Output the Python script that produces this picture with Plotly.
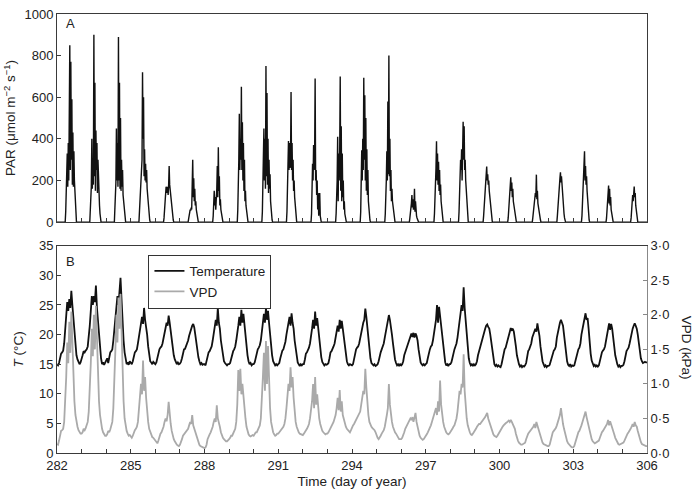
import plotly.graph_objects as go

# ---------------- data ----------------
days = list(range(282, 306))

# PAR (umol m-2 s-1), half-hourly from 08:00 onward for each day (night = 0)
par_days = [
    [0,50,120,180,330,170,380,200,560,850,250,770,300,590,180,430,170,340,200,150,90,40,0],
    [0,50,130,170,400,160,300,180,900,220,670,150,440,250,380,140,300,160,120,80,40,10,0],
    [0,60,140,190,450,200,380,170,890,200,670,160,500,150,300,170,250,130,100,70,40,10,0],
    [0,40,90,150,200,250,300,720,400,600,220,350,200,280,190,250,160,120,90,60,30,10,0],
    [0,20,50,90,130,170,150,140,170,130,180,270,180,150,120,90,60,40,20,10,0,0,0],
    [0,15,30,50,60,55,70,60,150,300,120,210,100,160,80,100,60,40,20,10,0,0,0],
    [0,30,70,150,80,120,60,100,160,270,120,360,150,220,80,110,60,40,20,10,0,0,0],
    [0,60,150,300,520,250,400,300,650,250,480,200,380,150,300,100,150,80,50,20,10,0,0],
    [0,50,150,280,450,200,400,160,750,220,620,180,400,140,300,160,230,100,60,30,10,0,0],
    [0,50,150,250,390,250,380,260,300,625,250,380,200,300,150,200,120,80,40,20,0,0,0],
    [0,40,120,280,200,370,250,300,690,200,250,130,200,60,140,30,80,140,30,10,0,0,0],
    [0,40,100,200,410,100,330,200,350,700,150,460,100,330,120,200,60,100,40,20,0,0,0],
    [0,50,150,345,200,400,250,694,300,610,200,500,150,350,130,250,100,60,30,10,0,0,0],
    [0,40,100,200,340,200,580,230,800,220,400,150,250,100,160,100,80,50,20,10,0,0,0],
    [0,20,40,60,90,130,70,110,60,80,160,50,100,40,30,20,10,0,0,0,0,0,0],
    [0,40,100,200,260,388,200,330,180,290,150,250,130,180,100,60,30,10,0,0,0,0,0],
    [0,50,120,200,300,250,350,200,400,482,300,460,250,300,200,150,80,40,20,0,0,0,0],
    [0,30,80,130,180,200,220,267,200,230,180,200,150,120,90,60,30,10,0,0,0,0,0],
    [0,20,60,100,150,180,215,150,190,120,160,100,80,60,40,20,10,0,0,0,0,0,0],
    [0,20,50,80,110,100,140,120,228,110,150,90,70,50,30,20,10,0,0,0,0,0,0],
    [0,30,80,130,180,200,210,239,190,220,170,150,110,70,40,20,0,0,0,0,0,0,0],
    [0,30,80,140,200,270,340,200,270,180,220,150,100,60,30,10,0,0,0,0,0,0,0],
    [0,20,50,80,120,176,90,160,80,120,60,40,20,10,0,0,0,0,0,0,0,0,0],
    [0,20,50,90,130,100,150,171,120,140,80,60,30,10,0,0,0,0,0,0,0,0,0],
]

# Air temperature (deg C), hourly 00:00-23:00 for each day
temp_days = [
    [15.0,14.8,15.2,16.0,16.8,17.0,17.3,18.5,20.5,22.5,25.5,24.0,26.0,24.5,27.4,25.0,22.5,20.0,18.0,16.5,15.8,15.5,15.0,15.3],
    [15.8,16.5,17.2,17.0,17.3,17.5,18.0,19.5,21.5,24.0,26.5,25.0,26.5,25.5,28.3,24.5,22.0,19.5,17.5,16.0,15.0,15.3,14.9,15.2],
    [15.5,16.0,15.2,16.5,17.0,17.2,17.5,19.0,21.0,23.5,25.0,26.5,25.0,27.0,29.6,26.0,22.0,19.0,17.0,15.5,15.0,15.3,14.9,15.5],
    [15.2,15.0,15.5,16.5,17.0,17.2,17.5,18.5,19.5,21.0,22.0,23.0,21.8,24.5,22.5,21.5,20.0,18.0,16.5,15.5,15.3,15.0,15.4,15.1],
    [15.0,15.3,16.0,17.0,17.5,17.8,18.0,18.5,19.5,20.5,21.5,22.0,21.5,23.2,22.0,20.5,19.0,17.5,16.5,15.8,15.2,15.0,15.3,15.0],
    [15.1,15.4,16.0,17.0,17.5,17.6,18.0,18.5,19.0,19.8,20.5,21.0,21.5,21.8,21.2,20.0,18.5,17.3,16.2,15.5,15.0,15.2,14.9,15.0],
    [15.0,14.8,15.5,16.5,17.0,17.2,17.5,18.0,19.0,20.5,21.5,22.5,21.5,24.5,22.0,21.0,19.0,17.5,16.5,15.5,15.2,15.0,14.8,15.0],
    [15.0,15.2,16.0,17.0,17.2,17.5,18.0,19.0,20.0,21.5,23.0,21.5,24.2,22.0,23.5,21.5,19.5,17.8,16.5,15.5,15.0,15.2,14.8,15.0],
    [15.0,15.3,16.2,17.0,17.5,17.8,18.2,19.0,20.5,22.0,23.5,22.0,24.5,22.5,24.0,22.0,20.0,18.0,16.5,15.5,15.0,14.8,15.0,14.8],
    [15.0,15.2,16.0,17.0,17.3,17.5,18.0,18.8,20.0,21.0,22.0,23.0,21.5,23.6,22.0,21.0,19.0,17.5,16.0,15.3,15.0,14.7,15.0,14.8],
    [15.0,15.0,15.8,16.8,17.0,17.3,17.8,18.5,19.5,21.0,22.5,21.0,23.9,21.5,22.8,21.0,19.5,17.5,16.2,15.4,15.0,14.8,15.0,14.9],
    [15.0,15.2,16.0,17.0,17.2,17.5,18.0,18.5,19.5,20.5,21.5,20.5,22.5,21.0,22.3,21.0,19.5,17.8,16.5,15.5,15.0,14.8,15.0,14.9],
    [14.8,15.0,15.8,17.0,17.5,17.8,18.0,18.5,19.5,20.5,21.5,22.0,22.5,24.4,23.0,21.0,19.0,17.5,16.0,15.2,15.0,14.8,15.0,14.7],
    [14.8,15.0,15.5,16.5,17.0,17.5,18.0,18.5,19.5,20.5,21.5,22.0,23.3,22.5,21.5,20.0,18.5,17.0,15.8,15.2,14.8,15.0,14.7,15.0],
    [14.8,15.0,15.5,16.5,17.0,17.5,18.0,18.5,19.0,19.5,20.2,19.6,20.3,19.5,20.2,19.8,19.0,17.5,16.0,15.3,15.0,14.8,15.0,14.8],
    [15.0,15.2,16.0,17.0,17.5,18.0,18.2,19.0,20.0,21.5,22.5,25.0,22.0,24.7,23.0,21.5,19.5,17.5,16.0,15.3,14.8,15.0,14.7,15.0],
    [15.0,15.3,16.0,17.0,17.5,18.0,18.5,19.5,21.0,22.5,23.5,25.0,24.0,28.0,24.5,22.5,20.0,17.5,16.0,15.2,14.8,15.0,14.7,15.0],
    [14.8,15.0,15.5,16.5,17.2,17.8,18.2,19.0,19.8,20.5,21.0,21.5,21.7,21.3,21.0,20.0,18.5,17.0,15.8,15.0,14.7,14.9,14.6,14.8],
    [14.6,14.5,15.0,16.0,17.0,17.5,17.8,18.5,19.0,19.8,20.5,21.1,20.8,21.0,20.5,19.5,18.0,16.5,15.5,15.0,14.6,14.8,14.5,14.7],
    [14.6,14.8,15.2,16.5,17.2,17.5,18.0,18.5,19.5,20.0,20.5,21.0,20.5,21.9,20.8,19.8,18.0,16.5,15.5,15.0,14.6,14.8,14.5,14.7],
    [14.7,14.9,15.5,16.5,17.0,17.3,17.5,18.0,19.5,20.5,21.5,22.0,22.5,22.0,21.5,20.0,18.0,16.5,15.5,14.9,14.7,15.0,14.6,14.8],
    [14.7,14.8,15.5,16.5,17.3,17.5,17.8,18.5,20.0,21.0,22.0,22.8,23.6,22.5,22.8,21.0,18.5,16.8,15.6,15.0,14.7,14.9,14.6,14.8],
    [14.6,14.8,15.5,16.5,17.0,17.3,17.5,18.0,19.0,20.0,21.0,21.9,20.8,21.8,21.0,19.8,18.0,16.5,15.5,15.0,14.6,14.8,14.5,14.7],
    [14.7,14.9,15.5,16.5,17.2,17.5,17.8,18.5,19.5,20.5,21.0,21.5,21.9,21.5,21.0,20.0,18.5,17.0,16.0,15.5,15.2,15.3,15.4,15.3],
]

# Vapour pressure deficit (kPa), hourly 00:00-23:00 for each day
vpd_days = [
    [0.13,0.12,0.18,0.28,0.32,0.33,0.35,0.45,0.70,1.10,1.60,1.30,1.90,1.45,2.05,1.60,1.10,0.75,0.55,0.45,0.38,0.33,0.30,0.28],
    [0.28,0.30,0.35,0.33,0.36,0.40,0.45,0.60,0.90,1.30,1.80,1.40,2.00,1.50,2.13,1.60,1.10,0.75,0.55,0.42,0.35,0.30,0.27,0.25],
    [0.25,0.27,0.32,0.30,0.34,0.38,0.45,0.65,1.00,1.50,2.00,1.60,2.25,1.80,2.30,1.70,1.10,0.75,0.50,0.38,0.32,0.28,0.25,0.26],
    [0.24,0.22,0.25,0.30,0.33,0.35,0.38,0.45,0.60,0.80,1.00,0.85,1.34,0.90,1.10,0.80,0.60,0.45,0.35,0.30,0.26,0.23,0.22,0.20],
    [0.18,0.15,0.14,0.18,0.25,0.28,0.30,0.33,0.38,0.45,0.50,0.46,0.55,0.74,0.50,0.42,0.32,0.25,0.20,0.17,0.14,0.12,0.11,0.10],
    [0.12,0.15,0.20,0.25,0.27,0.28,0.30,0.32,0.35,0.40,0.45,0.42,0.55,0.40,0.35,0.30,0.25,0.20,0.15,0.12,0.10,0.09,0.08,0.07],
    [0.07,0.08,0.12,0.20,0.25,0.27,0.30,0.33,0.38,0.45,0.50,0.45,0.69,0.50,0.45,0.38,0.30,0.25,0.22,0.20,0.18,0.17,0.17,0.18],
    [0.20,0.22,0.25,0.25,0.28,0.30,0.35,0.45,0.70,1.20,0.90,1.22,0.85,1.00,0.80,0.70,0.50,0.38,0.30,0.27,0.25,0.24,0.25,0.26],
    [0.25,0.27,0.30,0.30,0.33,0.36,0.40,0.50,0.75,1.10,1.45,0.90,1.62,1.00,1.55,0.90,0.65,0.45,0.35,0.30,0.27,0.25,0.26,0.28],
    [0.28,0.30,0.32,0.33,0.35,0.38,0.42,0.50,0.65,0.85,1.00,0.90,1.24,0.95,1.10,0.80,0.60,0.45,0.38,0.33,0.30,0.28,0.27,0.26],
    [0.26,0.28,0.30,0.32,0.35,0.38,0.42,0.50,0.60,0.75,1.00,0.65,1.10,0.70,0.85,0.60,0.50,0.42,0.36,0.32,0.30,0.28,0.27,0.28],
    [0.28,0.30,0.33,0.35,0.38,0.42,0.45,0.50,0.55,0.65,0.80,0.62,0.91,0.60,0.75,0.55,0.48,0.42,0.38,0.35,0.33,0.32,0.30,0.33],
    [0.38,0.40,0.42,0.45,0.48,0.50,0.52,0.55,0.60,0.70,0.80,0.90,0.85,1.22,0.95,0.70,0.55,0.45,0.40,0.38,0.36,0.35,0.33,0.30],
    [0.25,0.22,0.20,0.22,0.25,0.28,0.30,0.33,0.38,0.45,0.55,0.65,1.00,0.70,0.55,0.45,0.38,0.33,0.30,0.28,0.25,0.22,0.20,0.20],
    [0.20,0.22,0.25,0.30,0.35,0.38,0.40,0.42,0.45,0.50,0.48,0.52,0.45,0.50,0.58,0.45,0.38,0.30,0.25,0.22,0.20,0.19,0.20,0.22],
    [0.24,0.27,0.30,0.33,0.36,0.40,0.45,0.50,0.55,0.58,0.65,0.55,0.75,0.60,1.05,0.70,0.55,0.45,0.38,0.33,0.30,0.28,0.27,0.28],
    [0.30,0.32,0.35,0.38,0.40,0.45,0.50,0.60,0.75,0.90,0.85,1.00,0.95,1.43,0.90,0.65,0.50,0.40,0.33,0.30,0.27,0.26,0.28,0.30],
    [0.32,0.35,0.38,0.40,0.42,0.42,0.44,0.45,0.48,0.50,0.52,0.55,0.58,0.50,0.45,0.40,0.35,0.30,0.27,0.25,0.24,0.23,0.25,0.28],
    [0.30,0.33,0.35,0.38,0.40,0.42,0.43,0.44,0.45,0.47,0.45,0.48,0.45,0.42,0.40,0.35,0.28,0.22,0.18,0.15,0.13,0.12,0.12,0.13],
    [0.13,0.15,0.20,0.25,0.28,0.30,0.32,0.33,0.35,0.38,0.42,0.36,0.45,0.40,0.35,0.28,0.22,0.18,0.15,0.13,0.12,0.11,0.10,0.10],
    [0.10,0.12,0.18,0.25,0.30,0.32,0.34,0.36,0.40,0.45,0.50,0.55,0.65,0.50,0.42,0.35,0.28,0.22,0.17,0.14,0.12,0.10,0.09,0.08],
    [0.08,0.10,0.15,0.22,0.28,0.30,0.32,0.35,0.40,0.45,0.50,0.55,0.60,0.52,0.45,0.38,0.30,0.24,0.20,0.17,0.15,0.14,0.15,0.16],
    [0.16,0.18,0.22,0.27,0.30,0.32,0.35,0.38,0.40,0.42,0.48,0.40,0.46,0.42,0.38,0.32,0.27,0.22,0.18,0.15,0.13,0.12,0.13,0.14],
    [0.14,0.15,0.18,0.22,0.25,0.28,0.30,0.32,0.35,0.38,0.42,0.38,0.45,0.40,0.38,0.32,0.26,0.20,0.16,0.13,0.12,0.11,0.10,0.10],
]
temp_end = 15.3
vpd_end = 0.10

x_major = [282, 285, 288, 291, 294, 297, 300, 303, 306]
vpd_ticks = [0.0, 0.5, 1.0, 1.5, 2.0, 2.5, 3.0]
vpd_labels = ["0·0", "0·5", "1·0", "1·5", "2·0", "2·5", "3·0"]

# ---------------- build series ----------------
par_x, par_y = [282.0], [0]
for d, vals in zip(days, par_days):
    for i, v in enumerate(vals):
        par_x.append(d + (8 + 0.5 * i) / 24)
        par_y.append(v)
par_x.append(306.0)
par_y.append(0)

t_x, t_y, v_y = [], [], []
for d, tv, vv in zip(days, temp_days, vpd_days):
    for h in range(24):
        t_x.append(d + h / 24)
        t_y.append(tv[h])
        v_y.append(vv[h])
t_x.append(306.0)
t_y.append(temp_end)
v_y.append(vpd_end)

FONT = "Liberation Sans, Arial, sans-serif"
AX = "#3a3a3a"
FS = 13
TFS = 13.5

fig = go.Figure()
fig.add_trace(go.Scatter(x=par_x, y=par_y, mode="lines", line=dict(color="#111111", width=1.4),
                         showlegend=False, xaxis="x", yaxis="y"))
fig.add_trace(go.Scatter(x=t_x, y=t_y, mode="lines", name="Temperature",
                         line=dict(color="#111111", width=1.8), xaxis="x2", yaxis="y2"))
fig.add_trace(go.Scatter(x=t_x, y=v_y, mode="lines", name="VPD",
                         line=dict(color="#aaaaaa", width=1.8), xaxis="x2", yaxis="y3"))

all_days = list(range(282, 307))
xt_text = [str(d) if d in x_major else "" for d in all_days]

common_x = dict(range=[282, 306], tickmode="array", tickvals=all_days, ticks="inside", ticklen=4,
                tickcolor=AX, showline=True, linecolor=AX, linewidth=1, showgrid=False,
                zeroline=False, mirror=True, tickfont=dict(size=FS, color="#222"))

fig.update_layout(
    width=694, height=493,
    margin=dict(l=57, r=47, t=7, b=39),
    paper_bgcolor="white", plot_bgcolor="white",
    font=dict(family=FONT, size=FS, color="#222"),
    xaxis=dict(domain=[0, 1], anchor="y", ticktext=[""] * len(all_days), **common_x),
    yaxis=dict(domain=[0.526, 1], range=[0, 1000], tickvals=[0, 200, 400, 600, 800, 1000],
               ticks="inside", ticklen=4, tickcolor=AX, showline=True, linecolor=AX, mirror=True,
               showgrid=False, zeroline=False, tickfont=dict(size=FS, color="#222"),
               title=dict(text="PAR (μmol m<sup>−2</sup> s<sup>−1</sup>)", standoff=5,
                          font=dict(size=TFS))),
    xaxis2=dict(domain=[0, 1], anchor="y2", ticktext=xt_text,
                title=dict(text="Time (day of year)", standoff=4, font=dict(size=TFS)), **common_x),
    yaxis2=dict(domain=[0, 0.472], range=[0, 35], tickvals=[0, 5, 10, 15, 20, 25, 30, 35],
                ticks="inside", ticklen=4, tickcolor=AX, showline=True, linecolor=AX,
                showgrid=False, zeroline=False, tickfont=dict(size=FS, color="#222"),
                title=dict(text="<i>T</i> (°C)", standoff=12, font=dict(size=TFS))),
    yaxis3=dict(overlaying="y2", side="right", anchor="x2", range=[0, 3],
                tickmode="array", tickvals=vpd_ticks, ticktext=vpd_labels,
                ticks="inside", ticklen=4, tickcolor="#888", showline=True, linecolor="#888",
                showgrid=False, zeroline=False, tickfont=dict(size=FS, color="#222")),
    legend=dict(x=0.155, y=0.452, xanchor="left", yanchor="top", bordercolor="#333",
                borderwidth=1, bgcolor="white", font=dict(size=TFS), tracegroupgap=0),
    annotations=[
        dict(text="A", x=0.012, y=1.0, yshift=0, xref="paper", yref="paper", xanchor="left",
             yanchor="top", showarrow=False, font=dict(size=FS)),
        dict(text="B", x=0.012, y=0.472, yshift=-6, xref="paper", yref="paper", xanchor="left",
             yanchor="top", showarrow=False, font=dict(size=FS)),
        dict(text="VPD (kPa)", x=1.066, y=0.24, xref="paper", yref="paper", textangle=90,
             xanchor="center", yanchor="middle", showarrow=False, font=dict(size=TFS)),
    ],
)

fig.write_html("out.html", config={"displayModeBar": False},
               post_script="document.body.style.margin='0';document.body.style.padding='0';")
